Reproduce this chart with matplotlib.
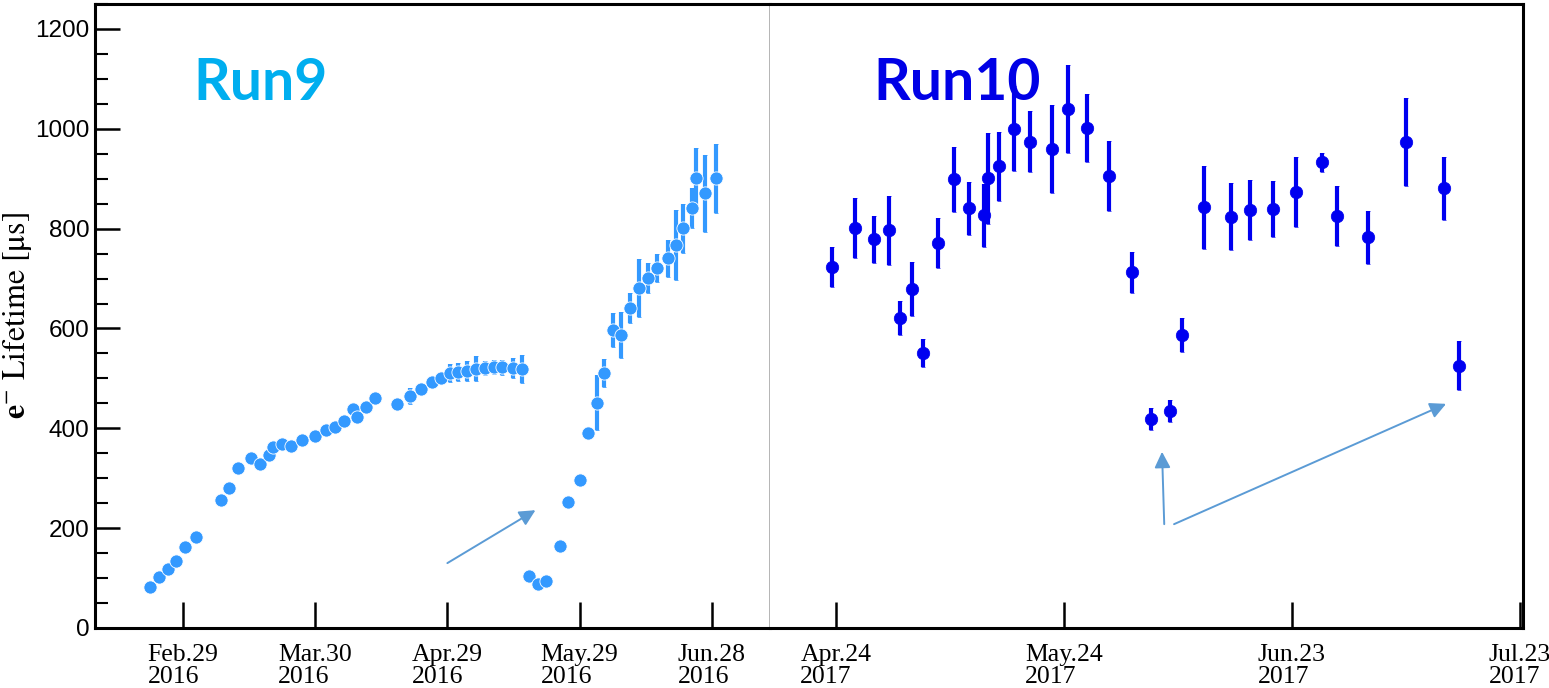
import numpy as np
import pandas as pd
import matplotlib
matplotlib.use('Agg')
import matplotlib.pyplot as plt
from matplotlib.ticker import MultipleLocator

plt.rcParams['mathtext.fontset'] = 'stix'

# Run9 (2016) electron lifetime
run9_dates = pd.to_datetime([
    '2016-02-21 12:00', '2016-02-23 12:00', '2016-02-25 12:00', '2016-02-27 12:00',
    '2016-02-29 12:00', '2016-03-03', '2016-03-08 12:00', '2016-03-10 12:00',
    '2016-03-12 12:00', '2016-03-15 12:00', '2016-03-17 12:00', '2016-03-19 12:00',
    '2016-03-20 12:00', '2016-03-22 12:00', '2016-03-24 12:00', '2016-03-27',
    '2016-03-30', '2016-04-01 12:00', '2016-04-03 12:00', '2016-04-05 12:00',
    '2016-04-07 12:00', '2016-04-08 12:00', '2016-04-10 12:00', '2016-04-12 12:00',
    '2016-04-17 12:00', '2016-04-20 12:00', '2016-04-23', '2016-04-25 12:00',
    '2016-04-27 12:00', '2016-04-29 12:00', '2016-05-01 12:00', '2016-05-03 12:00',
    '2016-05-05 12:00', '2016-05-07 12:00', '2016-05-09 12:00', '2016-05-11 12:00',
    '2016-05-14', '2016-05-16',
    '2016-05-17 12:00', '2016-05-19 12:00', '2016-05-21 12:00', '2016-05-24 12:00',
    '2016-05-26 12:00', '2016-05-29', '2016-05-31', '2016-06-02',
    '2016-06-03 12:00', '2016-06-05 12:00', '2016-06-07 12:00', '2016-06-09 12:00',
    '2016-06-11 12:00', '2016-06-13 12:00', '2016-06-15 12:00', '2016-06-18',
    '2016-06-20', '2016-06-21 12:00', '2016-06-23 12:00', '2016-06-24 12:00',
    '2016-06-26 12:00', '2016-06-29',
], format='ISO8601')
run9_tau = [
    82, 102, 118, 134, 162, 182, 257, 280, 320, 341, 329, 347, 362, 369, 365, 377,
    385, 397, 402, 415, 438, 423, 443, 460, 449, 465, 479, 492, 501, 510, 513, 515,
    519, 521, 523, 522, 521, 519,
    104, 88, 94, 164, 252, 296, 390, 451, 511, 597, 587, 641, 681, 701, 721, 741,
    767, 801, 841, 901, 871, 901,
]
run9_err = [
    4, 4, 4, 4, 4, 4, 4, 4, 4, 4, 4, 4, 4, 4, 4, 4,
    4, 4, 4, 4, 12, 4, 4, 4, 6, 16, 6, 6, 10, 18, 18, 20,
    25, 14, 14, 15, 20, 28,
    4, 4, 4, 4, 4, 4, 12, 55, 28, 35, 47, 30, 59, 30, 28, 37,
    70, 49, 40, 61, 77, 69,
]

# Run10 (2017) electron lifetime
run10_dates = pd.to_datetime([
    '2017-04-23 12:00', '2017-04-26 12:00', '2017-04-29', '2017-05-01',
    '2017-05-02 12:00', '2017-05-04', '2017-05-05 12:00', '2017-05-07 12:00',
    '2017-05-09 12:00', '2017-05-11 12:00', '2017-05-13 12:00', '2017-05-14',
    '2017-05-15 12:00', '2017-05-17 12:00', '2017-05-19 12:00', '2017-05-22 12:00',
    '2017-05-24 12:00', '2017-05-27', '2017-05-30', '2017-06-02',
    '2017-06-04 12:00', '2017-06-07', '2017-06-08 12:00', '2017-06-11 12:00',
    '2017-06-15', '2017-06-17 12:00', '2017-06-20 12:00', '2017-06-23 12:00',
    '2017-06-27', '2017-06-29', '2017-07-03', '2017-07-08',
    '2017-07-13', '2017-07-15',
], format='ISO8601')
run10_tau = [
    723, 801, 779, 797, 621, 679, 551, 771, 899, 841, 827, 901, 925, 1000, 974, 960,
    1040, 1002, 905, 713, 419, 435, 587, 843, 824, 837, 839, 873, 933, 825, 783, 974,
    881, 525,
]
run10_err = [
    40, 60, 47, 69, 35, 55, 28, 50, 65, 53, 63, 91, 69, 85, 61, 88,
    88, 68, 70, 41, 22, 22, 34, 83, 67, 60, 56, 70, 19, 60, 53, 88,
    63, 49,
]

# x ticks
run9_ticks = pd.to_datetime(['2016-02-29', '2016-03-30', '2016-04-29', '2016-05-29', '2016-06-28'])
run9_ticklabels = ['Feb.29\n2016', 'Mar.30\n2016', 'Apr.29\n2016', 'May.29\n2016', 'Jun.28\n2016']
run10_ticks = pd.to_datetime(['2017-04-24', '2017-05-24', '2017-06-23', '2017-07-23'])
run10_ticklabels = ['Apr.24\n2017', 'May.24\n2017', 'Jun.23\n2017', 'Jul.23\n2017']

# annotation arrows (start, end) in data units
run9_arrows = [(('2016-04-29', 130), ('2016-05-19', 236))]
run10_arrows = [(('2017-06-06 05:00', 208), ('2017-06-05 22:00', 353)),
                (('2017-06-07 12:00', 208), ('2017-07-13 07:00', 449))]

c_run9 = '#3399ff'
c_run10 = '#0000f0'
c_arrow = '#5b9bd5'

fig = plt.figure(figsize=(15.49, 6.88), dpi=100)
W, H = 1549, 688
ax1 = fig.add_axes([95 / W, (H - 628) / H, (770 - 95) / W, (628 - 4) / H])
ax2 = fig.add_axes([770 / W, (H - 628) / H, (1523 - 770) / W, (628 - 4) / H], sharey=ax1)

ax1.errorbar(run9_dates, run9_tau, yerr=run9_err, fmt='o', color=c_run9, ms=9.5,
             mec='white', mew=0.6, elinewidth=3, capsize=1.5, capthick=3)
ax2.errorbar(run10_dates, run10_tau, yerr=run10_err, fmt='o', color=c_run10, ms=9,
             mec=c_run10, mew=0.5, elinewidth=3, capsize=1.5, capthick=3)

for ax, arrows in ((ax1, run9_arrows), (ax2, run10_arrows)):
    for (x0, y0), (x1, y1) in arrows:
        ax.annotate('', xy=(pd.Timestamp(x1), y1), xytext=(pd.Timestamp(x0), y0),
                    arrowprops=dict(arrowstyle='-|>', color=c_arrow, lw=1.4,
                                    mutation_scale=24, shrinkA=0, shrinkB=0))

ax1.set_xlim(pd.Timestamp('2016-02-09'), pd.Timestamp('2016-07-11 06:00'))
ax2.set_xlim(pd.Timestamp('2017-04-15 08:00'), pd.Timestamp('2017-07-23 10:00'))
ax1.set_ylim(0, 1250)
ax1.yaxis.set_major_locator(MultipleLocator(200))
ax1.yaxis.set_minor_locator(MultipleLocator(50))

for ax, ticks, labels in ((ax1, run9_ticks, run9_ticklabels), (ax2, run10_ticks, run10_ticklabels)):
    ax.set_xticks(ticks)
    ax.set_xticklabels(labels, fontfamily='Liberation Serif', fontsize=18.5, linespacing=1.0)
    for t in ax.get_xticklabels():
        t.set_multialignment('left')
    ax.tick_params(axis='x', direction='in', length=19, width=1.8, pad=11.5, top=False)
    for s in ax.spines.values():
        s.set_linewidth(2.2)

ax1.tick_params(axis='y', which='major', direction='in', length=18, width=1.8,
                labelsize=17.5, pad=4, right=False)
ax1.tick_params(axis='y', which='minor', direction='in', length=9, width=1.5, right=False)
for t in ax1.get_yticklabels():
    t.set_fontfamily('Liberation Sans')
ax2.tick_params(axis='y', which='both', left=False, right=False, labelleft=False)

ax1.spines['right'].set_color('#a8a8a8')
ax1.spines['right'].set_linewidth(1.2)
ax2.spines['left'].set_visible(False)

ax1.set_ylabel(r'$\mathbf{e}^{-}\ \mathrm{Lifetime\ [\mu s]}$', fontsize=23)
ax1.yaxis.set_label_coords(-0.09, 0.5)

fig.text(193 / W, (H - 100) / H, 'Run9', color='#00aeef', fontfamily='Lato',
         fontweight='bold', fontsize=41, va='baseline', ha='left')
fig.text(873 / W, (H - 100) / H, 'Run10', color='#0000e6', fontfamily='Lato',
         fontweight='bold', fontsize=41, va='baseline', ha='left')

fig.savefig('out.png', dpi=100)
